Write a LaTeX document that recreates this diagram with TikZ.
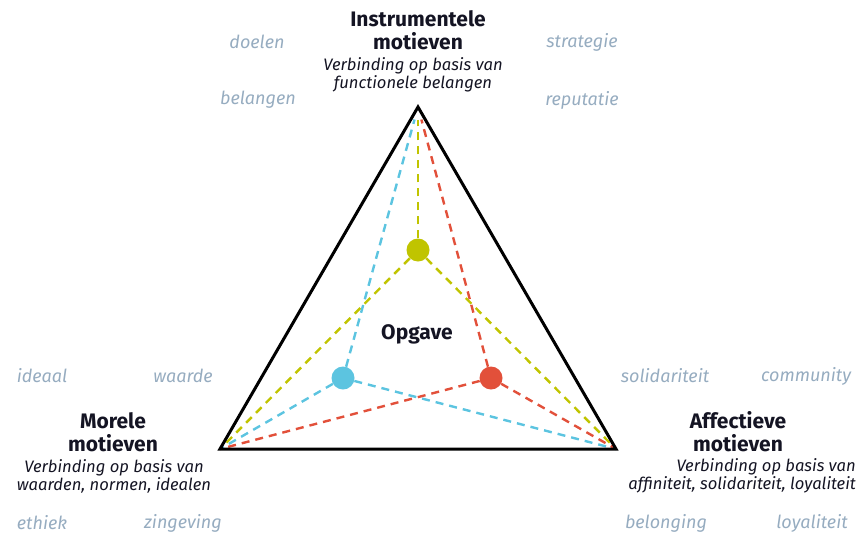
\documentclass[tikz,border=0pt]{standalone}
\usepackage{fontspec}
\setmainfont{Fira Sans}
\usetikzlibrary{positioning}
\definecolor{lijngeel}{RGB}{192,196,0}
\definecolor{lijnblauw}{RGB}{92,196,224}
\definecolor{lijnrood}{RGB}{226,80,58}
\definecolor{trefwoord}{RGB}{150,172,192}
\definecolor{inkt}{RGB}{20,20,35}
\tikzset{
    % gestreepte verbindingslijn
    lijn/.style={
           dashed,
           dash pattern=on 8pt off 6pt,
           line width=2.4pt,},
    % gekleurde stip
    stip/.style={
           shape=circle,
           minimum size=23pt,
           inner sep=0pt,},
    titel/.style={font=\bfseries\fontsize{21}{23}\selectfont, text=inkt, align=center, inner sep=0pt},
    uitleg/.style={font=\itshape\fontsize{16.6}{18}\selectfont, text=inkt, align=center, inner sep=0pt},
    woord/.style={font=\itshape\fontsize{18}{20}\selectfont, text=trefwoord, inner sep=0pt},
}
\begin{document}
\begin{tikzpicture}[x=1pt,y=-1pt]
  \useasboundingbox (0,0) rectangle (859,536);
  \coordinate (top) at (418,107);
  \coordinate (links) at (220,449);
  \coordinate (rechts) at (616,449);
  \node (geel) at (418,250) [stip] {};
  \node (blauw) at (343,378) [stip] {};
  \node (rood) at (491,378) [stip] {};
  % lijnen van de stippen naar de hoeken
  \draw [lijn,lijngeel,shorten >=13pt] (geel) -- (top);
  \draw [lijn,lijngeel] (geel) -- (links);
  \draw [lijn,lijngeel] (geel) -- (rechts);
  \draw [lijn,lijnblauw,shorten >=13pt] (blauw) -- (top);
  \draw [lijn,lijnblauw] (blauw) -- (links);
  \draw [lijn,lijnblauw] (blauw) -- (rechts);
  \draw [lijn,lijnrood,shorten >=13pt] (rood) -- (top);
  \draw [lijn,lijnrood] (rood) -- (links);
  \draw [lijn,lijnrood] (rood) -- (rechts);
  \draw [line width=3pt,line join=miter] (top) -- (links) -- (rechts) -- cycle;
  \fill [lijngeel] (geel) circle (11.5pt);
  \fill [lijnblauw] (blauw) circle (11.5pt);
  \fill [lijnrood] (rood) circle (11.5pt);
  \node (opgave) at (417,334) [titel,font=\bfseries\fontsize{21}{23}\selectfont] {Opgave};
  % instrumentele motieven
  \node (ititel) at (418,30) [titel] {Instrumentele\\motieven};
  \node (iuitleg) at (413,75) [uitleg] {Verbinding op basis van\\functionele belangen};
  \node (doelen) at (257,42) [woord] {doelen};
  \node (belangen) at (258,100) [woord] {belangen};
  \node (strategie) at (582,42) [woord] {strategie};
  \node (reputatie) at (582,100) [woord] {reputatie};
  % morele motieven
  \node (mtitel) at (113,432) [titel] {Morele\\motieven};
  \node (muitleg) at (114,476) [uitleg] {Verbinding op basis van\\waarden, normen, idealen};
  \node (ideaal) at (42,376) [woord] {ideaal};
  \node (waarde) at (183,376) [woord] {waarde};
  \node (ethiek) at (42,523) [woord] {ethiek};
  \node (zingeving) at (183,523) [woord] {zingeving};
  % affectieve motieven
  \node (atitel) at (738,432) [titel] {Affectieve\\motieven};
  \node (auitleg) at (856,476) [uitleg,anchor=east,align=right] {Verbinding op basis van\\affiniteit, solidariteit, loyaliteit};
  \node (solidariteit) at (665,376) [woord] {solidariteit};
  \node (community) at (806,376) [woord] {community};
  \node (belonging) at (666,523) [woord] {belonging};
  \node (loyaliteit) at (812,523) [woord] {loyaliteit};
\end{tikzpicture}
\end{document}
